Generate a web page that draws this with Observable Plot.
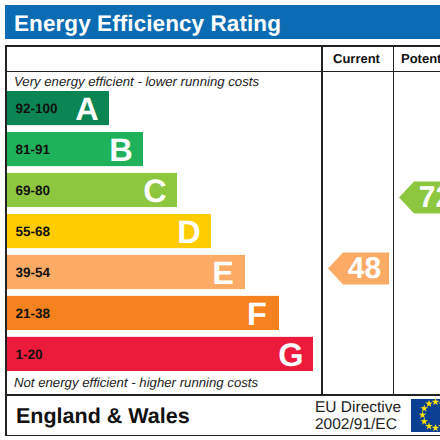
<!DOCTYPE html>
<html>
<head>
<meta charset="utf-8">
<script src="https://cdn.jsdelivr.net/npm/d3@7"></script>
<script src="https://cdn.jsdelivr.net/npm/@observablehq/plot@0.6"></script>
<style>
html,body{margin:0;padding:0;background:#fff;}
body{width:440px;height:440px;overflow:hidden;position:relative;font-family:"Liberation Sans",Arial,sans-serif;color:#111;text-rendering:geometricPrecision;}
.a{position:absolute;white-space:nowrap;}
.l{position:absolute;background:#222;}
svg{position:absolute;left:0;top:0;}
</style>
</head>
<body>
<div class="a" style="left:5px;top:5px;width:435px;height:34px;background:#0b6bb3;"></div>
<div class="a" id="title" style="left:14px;top:9px;color:#fff;font-weight:bold;font-size:22.5px;line-height:30px;letter-spacing:.08px;">Energy Efficiency Rating</div>
<div class="l" style="left:5px;top:45px;width:435px;height:1.6px;"></div>
<div class="l" style="left:5px;top:70.5px;width:435px;height:1.4px;"></div>
<div class="l" style="left:5px;top:45px;width:1.6px;height:391px;"></div>
<div class="l" style="left:321px;top:45px;width:1.6px;height:350px;"></div>
<div class="l" style="left:392.5px;top:45px;width:1.6px;height:350px;"></div>
<div class="l" style="left:5px;top:394px;width:435px;height:1.6px;"></div>
<div class="l" style="left:5px;top:434.5px;width:435px;height:1.6px;"></div>
<div class="a" style="left:333px;top:51px;font-weight:bold;font-size:13px;line-height:16px;">Current</div>
<div class="a" style="left:401px;top:51px;font-weight:bold;font-size:13px;line-height:16px;">Potential</div>
<div class="a" style="left:14px;top:74px;font-style:italic;font-size:13.2px;line-height:16px;color:#222;">Very energy efficient - lower running costs</div>
<div class="a" style="left:14px;top:375px;font-style:italic;font-size:13.2px;line-height:16px;color:#222;">Not energy efficient - higher running costs</div>
<div class="a" style="left:16px;top:403px;font-weight:bold;font-size:21.5px;line-height:26px;">England &amp; Wales</div>
<div class="a" style="left:315px;top:399px;font-size:15.5px;line-height:17px;color:#222;">EU Directive<br>2002/91/EC</div>
<div id="chart"></div>
<script>
// Rating bands
const ratings = ["A", "B", "C", "D", "E", "F", "G"];
const ranges = ["92-100", "81-91", "69-80", "55-68", "39-54", "21-38", "1-20"];
const barLengths = [3, 4, 5, 6, 7, 8, 9];
const colors = ["#0a8553", "#1fb25a", "#8dc63f", "#ffcc00", "#fbab66", "#f6821f", "#ed1b3b"];
// Score pointers
const columns = ["Current", "Potential"];
const scores = [48, 72];
const scoreRatings = ["E", "C"];

const bands = ratings.map((r, i) => ({rating: r, range: ranges[i], length: barLengths[i]}));
const pointers = columns.map((c, i) => ({column: c, score: scores[i], rating: scoreRatings[i]}));
const font = {fontFamily: '"Liberation Sans", Arial, sans-serif', background: "transparent", overflow: "hidden"};
const colorScale = {type: "ordinal", domain: ratings, range: colors};
const unit = 34;

const bars = Plot.plot({
  width: 440, height: 440, margin: 0,
  style: font,
  x: {domain: [0, 433 / unit], range: [7, 440], axis: null},
  y: {type: "band", domain: ratings, range: [91, 371], paddingInner: 0.167, paddingOuter: 0, round: false, axis: null},
  color: colorScale,
  marks: [
    Plot.barX(bands, {x1: 0, x2: "length", y: "rating", fill: "rating"}),
    Plot.text(bands, {x: 0, y: "rating", text: "range", textAnchor: "start", dx: 8, fontSize: 13.5, fontWeight: "bold", fill: "#111"}),
    Plot.text(bands, {x: "length", y: "rating", text: "rating", textAnchor: "middle", dx: -22.5, dy: 1, fontSize: 32.5, fontWeight: "bold", fill: "#fff"})
  ]
});

const arrow = {draw(ctx) {
  ctx.moveTo(-30.5, 0);
  ctx.lineTo(-15.5, -16);
  ctx.lineTo(30.5, -16);
  ctx.lineTo(30.5, 16);
  ctx.lineTo(-15.5, 16);
  ctx.closePath();
}};

const arrows = Plot.plot({
  width: 440, height: 440, margin: 0,
  style: font,
  x: {type: "point", domain: columns, range: [357.5, 428.5], padding: 0, axis: null},
  y: {domain: [100, 0], range: [114, 410], axis: null},
  color: colorScale,
  marks: [
    Plot.dot(pointers, {x: "column", y: "score", symbol: arrow, r: 1, fill: "rating"}),
    Plot.text(pointers, {x: "column", y: "score", text: d => String(d.score), dx: 6, fontSize: 30, fontWeight: "bold", fill: "#fff"})
  ]
});

const chart = document.getElementById("chart");
chart.append(bars, arrows);

// EU flag
const flag = d3.select(chart).append("svg").attr("width", 440).attr("height", 440);
flag.append("rect").attr("x", 411).attr("y", 399).attr("width", 29).attr("height", 33).attr("fill", "#0b3f94");
const star = d3.symbol(d3.symbolStar, 18)();
d3.range(12).forEach(i => {
  const t = i * Math.PI / 6;
  flag.append("path").attr("d", star).attr("fill", "#ffe600")
    .attr("transform", `translate(${435.5 + 13 * Math.cos(t)},${415 + 13 * Math.sin(t)})`);
});
</script>
</body>
</html>
